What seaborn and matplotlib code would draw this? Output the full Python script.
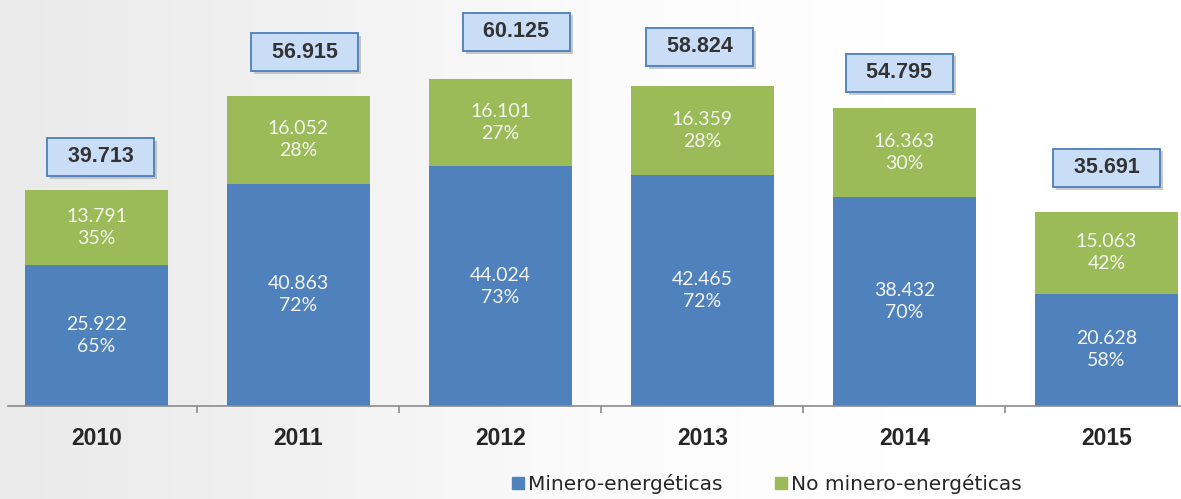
import numpy as np
import pandas as pd
import seaborn as sns
import matplotlib.pyplot as plt
import matplotlib.patches as mpatches
import matplotlib.patheffects as pe

# data (thousands, shown with '.' separator)
years = ['2010', '2011', '2012', '2013', '2014', '2015']
minero = [25.922, 40.863, 44.024, 42.465, 38.432, 20.628]
no_minero = [13.791, 16.052, 16.101, 16.359, 16.363, 15.063]

blue = '#4f81bd'
green = '#9bbb59'

df = pd.DataFrame({'year': years, 'minero': minero, 'no_minero': no_minero})
df['total'] = df['minero'] + df['no_minero']

sns.set_style('white')
fig = plt.figure(figsize=(11.81, 4.99), dpi=100)

# light grey -> white background gradient
bg = fig.add_axes([0, 0, 1, 1], zorder=-10)
grad = np.linspace(0, 1, 256).reshape(1, -1)
bg.imshow(grad, aspect='auto',
          cmap=sns.blend_palette(['#eaeaea', '#f1f1f1', '#fbfbfb', '#ffffff', '#ffffff'], as_cmap=True),
          extent=[0, 1, 0, 1])
bg.axis('off')

ax = fig.add_axes([8 / 1181, 93 / 499, 1173 / 1181, 406 / 499])
ax.patch.set_alpha(0)

# totals drawn in green, minero drawn over it in blue -> stacked look
sns.barplot(data=df, x='year', y='total', color=green, width=0.71, saturation=1, linewidth=0, ax=ax)
sns.barplot(data=df, x='year', y='minero', color=blue, width=0.71, saturation=1, linewidth=0, ax=ax)

ax.set_xlim(-0.438, 5.369)
ax.set_ylim(0, 74.6)
ax.set_xlabel('')
ax.set_ylabel('')
ax.set_yticks([])
for s in ['top', 'right', 'left']:
    ax.spines[s].set_visible(False)
ax.spines['bottom'].set_color('#8c8c8c')
ax.spines['bottom'].set_linewidth(1.2)

# ticks sit between categories
ax.set_xticks(np.arange(len(years) - 1) + 0.5, minor=True)
ax.tick_params(axis='x', which='minor', bottom=True, length=5, color='#8c8c8c', width=1.2, direction='out')
ax.tick_params(axis='x', which='major', bottom=False, length=0, pad=15)
ax.set_xticks(range(len(years)))
ax.set_xticklabels(years, fontsize=16.5, fontweight='bold', family='Liberation Sans')

def fmt(v):
    return f'{v:.3f}'

inner_font = 'Lato'
for i, row in df.iterrows():
    pm = round(100 * row['minero'] / row['total'])
    pn = round(100 * row['no_minero'] / row['total'])
    ax.text(i, row['minero'] / 2, f"{fmt(row['minero'])}\n{pm}%", ha='center', va='center',
            color='#f4f4ee', fontsize=14, family=inner_font, linespacing=1.35)
    ax.text(i, row['minero'] + row['no_minero'] / 2, f"{fmt(row['no_minero'])}\n{pn}%", ha='center',
            va='center', color='#f4f4ee', fontsize=14, family=inner_font, linespacing=1.35)

# total boxes above the bars (offsets in pixels as placed in the original)
box_dx = [4, 6, 16, -3, -5, 0]
box_dy = [33, 44, 47, 39, 35, 44]
for i, row in df.iterrows():
    t = ax.annotate('  ' + fmt(row['total']) + '  ', xy=(i, row['total']),
                    xytext=(box_dx[i] * 0.72, box_dy[i] * 0.72),
                    textcoords='offset points', ha='center', va='center', fontsize=15.5,
                    fontweight='bold', family='Liberation Sans', color='#333333',
                    bbox=dict(boxstyle='square,pad=0.4', fc='#c9ddf7', ec='#4a7ebb', lw=1.3))
    t.get_bbox_patch().set_path_effects([pe.withSimplePatchShadow(offset=(2, -2), shadow_rgbFace='#999999', alpha=0.5)])

handles = [mpatches.Patch(color=blue, label='Minero-energéticas'),
           mpatches.Patch(color=green, label='No minero-energéticas')]
fig.legend(handles=handles, loc='center', bbox_to_anchor=(767 / 1181, 1 - 484 / 499), ncol=2,
           frameon=False, prop={'family': 'DejaVu Sans', 'size': 14.5}, handlelength=0.6, handleheight=0.6,
           handletextpad=0.2, columnspacing=2.6)

fig.savefig('out.png', dpi=100)
